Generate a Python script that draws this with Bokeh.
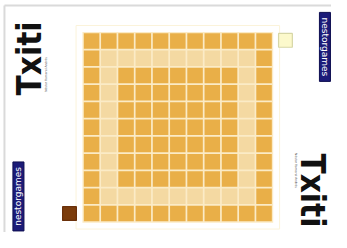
import math
from bokeh.plotting import figure
from bokeh.models import Range1d
from bokeh.core.properties import value
from bokeh.embed import file_html
from bokeh.resources import INLINE

# Board layout: O = dark orange square, I = light inner-ring square
board_rows = [
    "OOOOOOOOOOO",
    "OIIIIIIIIIO",
    "OIOOOOOOOIO",
    "OIOOOOOOOIO",
    "OIOOOOOOOIO",
    "OIOOOOOOOIO",
    "OIOOOOOOOIO",
    "OIOOOOOOOIO",
    "OIOOOOOOOIO",
    "OIIIIIIIIIO",
    "OOOOOOOOOOO",
]
cell_colors = {"O": "#E9AF48", "I": "#F4D9A2"}

# Pieces beside the board (column, row measured from bottom)
piece_x = [11.74, -0.78]
piece_y = [10.54, 0.50]
piece_fill = ["#FCF9CC", "#7B3C0C"]
piece_line = ["#D6D6A6", "#6A300A"]

logo_text = "Txiti"
brand_text = "nestorgames"
credit_text = "Néstor Romeral Andrés"

n = len(board_rows)
xs, ys, cs = [], [], []
for r, row in enumerate(board_rows):
    for c, ch in enumerate(row):
        xs.append(c + 0.5)
        ys.append(n - 1 - r + 0.5)
        cs.append(cell_colors[ch])

p = figure(width=331, height=232, output_backend="svg", toolbar_location=None,
           x_range=Range1d(-4.78, 14.41), y_range=Range1d(-0.60, 12.85),
           min_border=0)
p.axis.visible = False
p.grid.visible = False
p.outline_line_color = None
p.background_fill_color = "white"
p.border_fill_color = "white"

# page frame (top and left edges)
p.segment(x0=[-4.55, -4.55], y0=[12.56, 12.56], x1=[14.41, -4.55], y1=[12.56, -0.60],
          line_color="#DADADA", line_width=2)

# faint halo and board background (grid lines)
p.rect(x=[n / 2], y=[n / 2], width=n + 0.8, height=n + 0.8,
       fill_color=None, line_color="#FBF3DA", line_width=1)
p.rect(x=[n / 2], y=[n / 2], width=n + 0.06, height=n + 0.06,
       fill_color="#FBEBC6", line_color=None)
p.rect(x=xs, y=ys, width=0.9, height=0.9, fill_color=cs, line_color=None)

# pieces
p.rect(x=piece_x, y=piece_y, width=0.8, height=0.8, fill_color=piece_fill,
       line_color=piece_line, line_width=1.2)

# logos
p.text(x=[-3.10], y=[9.49], text=[logo_text], angle=math.pi / 2,
       text_font=value("DejaVu Sans Condensed"), text_font_style="bold",
       text_font_size="33px", text_color="#111111", text_align="center",
       text_baseline="middle")
p.text(x=[13.28], y=[1.84], text=[logo_text], angle=-math.pi / 2,
       text_font=value("DejaVu Sans Condensed"), text_font_style="bold",
       text_font_size="33px", text_color="#111111", text_align="center",
       text_baseline="middle")
p.text(x=[-2.17], y=[8.56], text=[credit_text], angle=math.pi / 2,
       text_font=value("DejaVu Sans"), text_font_size="3px", text_color="#555555",
       text_align="center", text_baseline="middle")
p.text(x=[12.38], y=[3.0], text=[credit_text], angle=-math.pi / 2,
       text_font=value("DejaVu Sans"), text_font_size="3px", text_color="#555555",
       text_align="center", text_baseline="middle")

# brand boxes
p.rect(x=[14.03, -3.74], y=[10.16, 1.49], width=0.64, height=4.0,
       fill_color="#1B1B78", line_color="#0E0E50")
p.text(x=[14.03], y=[10.16], text=[brand_text], angle=-math.pi / 2,
       text_font=value("DejaVu Sans"), text_font_size="9px", text_color="white",
       text_align="center", text_baseline="middle")
p.text(x=[-3.74], y=[1.49], text=[brand_text], angle=math.pi / 2,
       text_font=value("DejaVu Sans"), text_font_size="9px", text_color="white",
       text_align="center", text_baseline="middle")

open("out.html", "w").write(file_html(p, INLINE))
